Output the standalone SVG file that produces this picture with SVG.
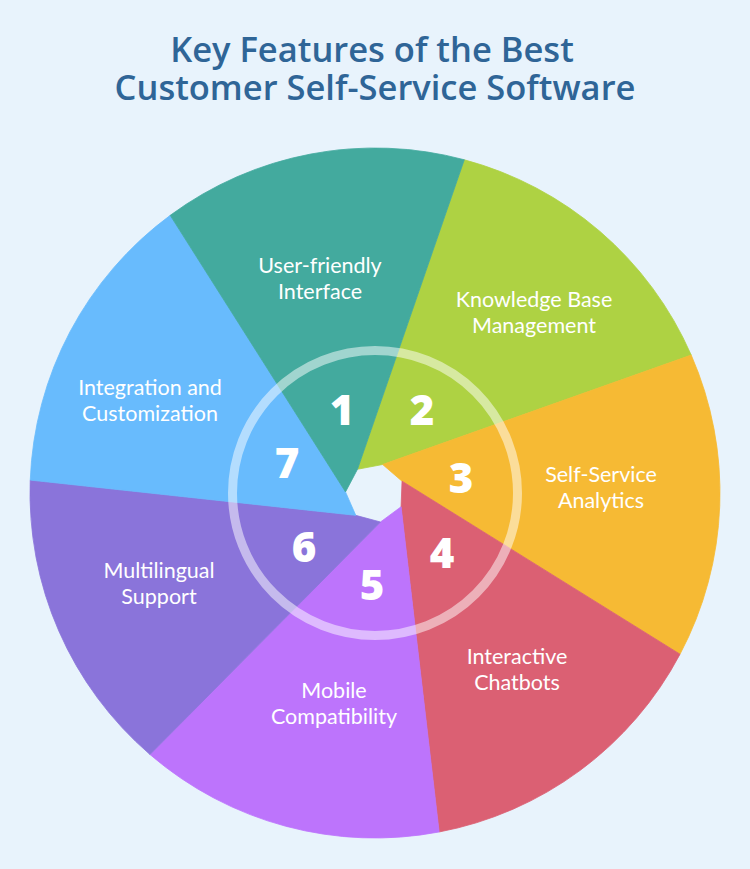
<svg xmlns="http://www.w3.org/2000/svg" width="750" height="869" viewBox="0 0 750 869">
<style>
.title{font-family:"Open Sans","Liberation Sans",sans-serif;font-weight:600;font-size:34.5px;fill:#2f6597;text-anchor:middle}
.lbl{font-family:Lato,"Liberation Sans",sans-serif;font-size:21.5px;fill:#ffffff;text-anchor:middle}
.num{font-family:"Open Sans","Liberation Sans",sans-serif;font-weight:800;font-size:42px;fill:#ffffff;text-anchor:middle}
.sec{stroke-width:0.8;stroke-linejoin:round}
</style>
<rect x="0" y="0" width="750" height="869" fill="#e8f3fc"/>
<g id="title">
<text class="title" x="372" y="62">Key Features of the Best</text>
<text class="title" x="375" y="100">Customer Self-Service Software</text>
</g>
<g id="sectors">
<g id="s2"><path class="sec" fill="#aed243" stroke="#aed243" d="M357.49,469.26 L464.29,159.75 A345,345 0 0 1 691.21,355.04 L382.64,464.51 Z"/></g>
<g id="s3"><path class="sec" fill="#f6ba34" stroke="#f6ba34" d="M382.64,464.51 L691.21,355.04 A345,345 0 0 1 680.03,654.20 L402.04,481.20 Z"/></g>
<g id="s4"><path class="sec" fill="#db6073" stroke="#db6073" d="M402.04,481.20 L680.03,654.20 A345,345 0 0 1 439.15,831.98 L401.08,506.78 Z"/></g>
<g id="s5"><path class="sec" fill="#bd74fc" stroke="#bd74fc" d="M401.08,506.78 L439.15,831.98 A345,345 0 0 1 149.97,754.50 L380.48,521.99 Z"/></g>
<g id="s6"><path class="sec" fill="#8a74da" stroke="#8a74da" d="M380.48,521.99 L149.97,754.50 A345,345 0 0 1 30.24,480.10 L355.76,515.36 Z"/></g>
<g id="s7"><path class="sec" fill="#68bbfd" stroke="#68bbfd" d="M355.76,515.36 L30.24,480.10 A345,345 0 0 1 170.23,215.34 L345.52,491.90 Z"/></g>
<g id="s1"><path class="sec" fill="#43aa9e" stroke="#43aa9e" d="M345.52,491.90 L170.23,215.34 A345,345 0 0 1 464.29,159.75 L357.49,469.26 Z"/></g>
</g>
<g id="ring"><circle cx="375" cy="493" r="142.5" fill="none" stroke="#ffffff" stroke-opacity="0.5" stroke-width="9"/></g>
<g id="labels">
<g id="l1"><text class="lbl" x="320" y="273">User-friendly</text><text class="lbl" x="320" y="299">Interface</text></g>
<g id="l2"><text class="lbl" x="534" y="307">Knowledge Base</text><text class="lbl" x="534" y="333">Management</text></g>
<g id="l3"><text class="lbl" x="601" y="482">Self-Service</text><text class="lbl" x="601" y="508">Analytics</text></g>
<g id="l4"><text class="lbl" x="517" y="664">Interactive</text><text class="lbl" x="517" y="690">Chatbots</text></g>
<g id="l5"><text class="lbl" x="334" y="698">Mobile</text><text class="lbl" x="334" y="724">Compatibility</text></g>
<g id="l6"><text class="lbl" x="159" y="578">Multilingual</text><text class="lbl" x="159" y="604">Support</text></g>
<g id="l7"><text class="lbl" x="150" y="395">Integration and</text><text class="lbl" x="150" y="421">Customization</text></g>
</g>
<g id="numbers">
<text class="num" x="342" y="425">1</text>
<text class="num" x="422" y="425">2</text>
<text class="num" x="461" y="493">3</text>
<text class="num" x="442" y="568">4</text>
<text class="num" x="372" y="600">5</text>
<text class="num" x="304" y="562">6</text>
<text class="num" x="287" y="478">7</text>
</g>
</svg>
